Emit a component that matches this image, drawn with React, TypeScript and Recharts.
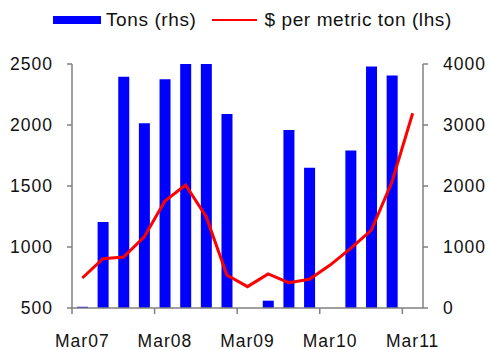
import React from 'react';
import { ComposedChart, Bar, Line, XAxis, YAxis, Legend } from 'recharts';

const categories = ['Mar07','Jun07','Sep07','Dec07','Mar08','Jun08','Sep08','Dec08','Mar09','Jun09','Sep09','Dec09','Mar10','Jun10','Sep10','Dec10','Mar11'];
const tons = [20,1410,3790,3030,3750,4000,4000,3180,0,120,2920,2300,0,2580,3960,3810,0];
const pricePerTon = [746,904,918,1084,1377,1508,1248,770,675,779,708,735,852,989,1139,1535,2096];
const leftTicks = [500,1000,1500,2000,2500];
const rightTicks = [0,1000,2000,3000,4000];

const data = categories.map((c, i) => ({ name: c, tons: tons[i], price: pricePerTon[i] }));

const W = 489;
const H = 350;
const LEFT_W = 72;
const RIGHT_W = 66;
const FONT = '"Liberation Sans", Arial, sans-serif';
const TEXT = '#111';
const AXIS = '#808080';
const band = (W - LEFT_W - RIGHT_W) / categories.length;

const XTick = (props: any) => {
  const { x, y, payload } = props;
  const half = band / 2;
  return (
    <g>
      <line x1={x - half} y1={y} x2={x - half} y2={y + 6} stroke={AXIS} strokeWidth={1.5} />
      <text x={x} y={y + 38.5} textAnchor="middle" fontFamily={FONT} fontSize={17.5} letterSpacing={1} fill={TEXT}>
        {payload.value}
      </text>
    </g>
  );
};

const LegendContent = () => (
  <div style={{ display: 'flex', alignItems: 'center', fontFamily: FONT, fontSize: 19, letterSpacing: 0.6, color: TEXT, whiteSpace: 'nowrap' }}>
    <span style={{ display: 'inline-block', width: 48, height: 8, background: '#0000FF', marginLeft: 53 }} />
    <span style={{ marginLeft: 5 }}>Tons (rhs)</span>
    <span style={{ display: 'inline-block', width: 45, height: 2, background: '#FF0000', marginLeft: 16 }} />
    <span style={{ marginLeft: 7 }}>$ per metric ton (lhs)</span>
  </div>
);

export default function App() {
  return (
    <div style={{ position: 'absolute', left: 0, top: 0, width: W, height: H, background: '#fff' }}>
      <ComposedChart width={W} height={H} data={data} margin={{ top: 64, right: 0, left: 0, bottom: 0 }} barCategoryGap="24%">
        <Legend
          verticalAlign="middle"
          align="center"
          layout="horizontal"
          content={<LegendContent />}
          wrapperStyle={{ position: 'absolute', top: 9, left: 0, width: W }}
        />
        <XAxis
          dataKey="name"
          interval={3}
          height={42}
          tickLine={false}
          tickSize={0}
          tickMargin={0}
          tick={<XTick />}
          axisLine={{ stroke: AXIS, strokeWidth: 1.5 }}
        />
        <YAxis
          yAxisId="left"
          orientation="left"
          width={LEFT_W}
          domain={[500, 2500]}
          ticks={leftTicks}
          tickSize={5}
          tickMargin={14}
          tickLine={{ stroke: AXIS, strokeWidth: 1.5 }}
          axisLine={{ stroke: AXIS, strokeWidth: 1.5 }}
          tick={{ fontFamily: FONT, fontSize: 17.5, letterSpacing: 1, fill: TEXT }}
        />
        <YAxis
          yAxisId="right"
          orientation="right"
          width={RIGHT_W}
          domain={[0, 4000]}
          ticks={rightTicks}
          tickSize={5}
          tickMargin={15}
          tickLine={{ stroke: AXIS, strokeWidth: 1.5 }}
          axisLine={{ stroke: AXIS, strokeWidth: 1.5 }}
          tick={{ fontFamily: FONT, fontSize: 17.5, letterSpacing: 1, fill: TEXT }}
        />
        <Bar yAxisId="right" dataKey="tons" name="Tons (rhs)" fill="#0000FF" isAnimationActive={false} />
        <Line yAxisId="left" type="linear" dataKey="price" name="$ per metric ton (lhs)" stroke="#FF0000" strokeWidth={3} dot={false} isAnimationActive={false} />
      </ComposedChart>
    </div>
  );
}
